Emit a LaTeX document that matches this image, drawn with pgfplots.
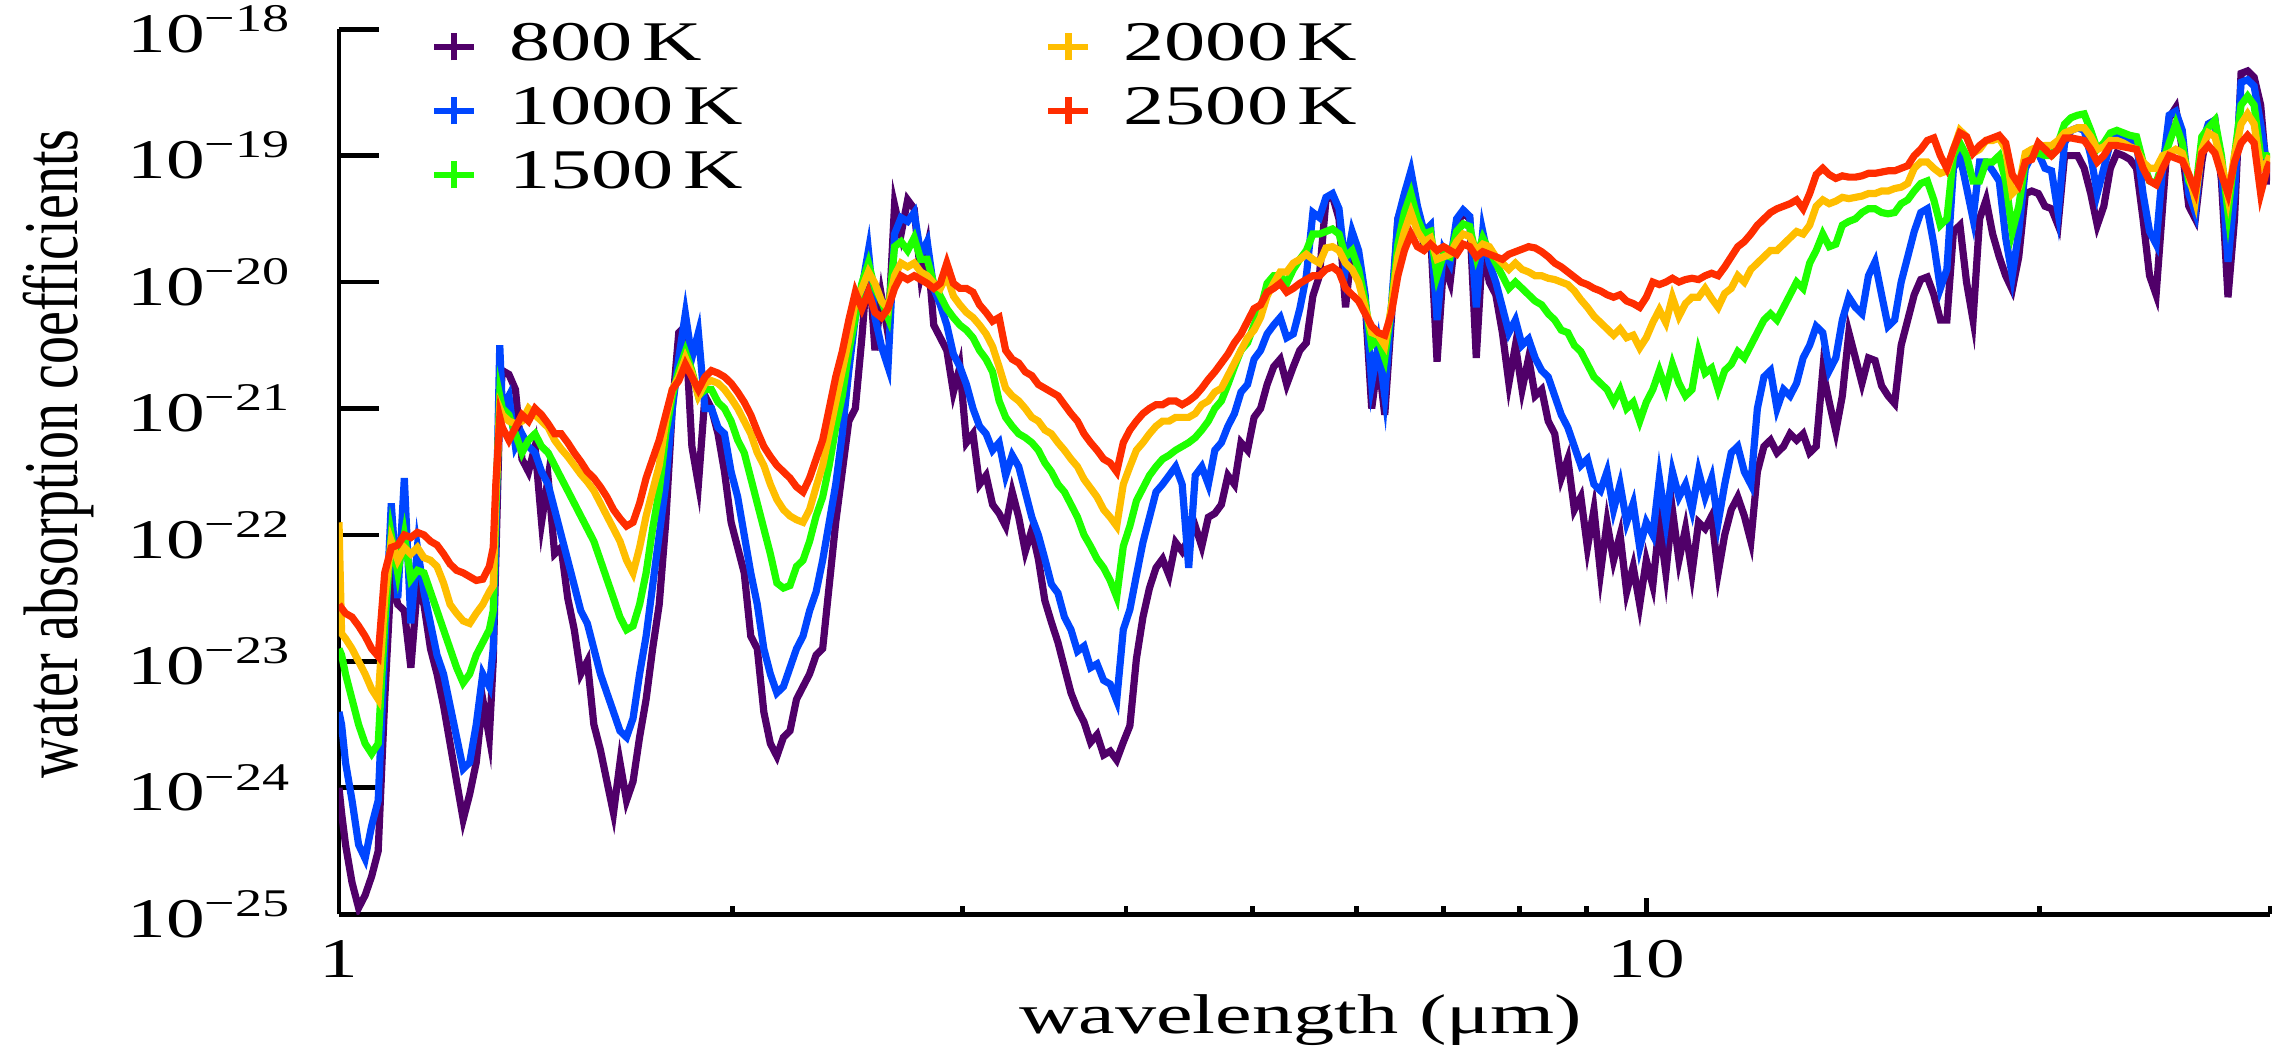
\documentclass[border=0pt]{standalone}
\usepackage{fontspec}
\setmainfont{Liberation Serif}[FakeStretch=1.47]
\newfontfamily\tickfont{Liberation Serif}[FakeStretch=1.38]
\newfontfamily\ylfont{Liberation Serif}
\usepackage{pgfplots}
\usepackage{pgfplotstable}
\pgfplotsset{compat=1.18}

\definecolor{c800}{RGB}{80,0,105}
\definecolor{c1000}{RGB}{0,70,255}
\definecolor{c1500}{RGB}{30,255,0}
\definecolor{c2000}{RGB}{255,190,0}
\definecolor{c2500}{RGB}{255,45,0}

% columns: log10(wavelength / um), then log10 of the absorption coefficient
% for 800 K, 1000 K, 1500 K, 2000 K and 2500 K
\pgfplotstableread{
lx p b g o r
0.000 -24.0 -23.4 -22.9 -21.9 -22.55
0.002 -24.2 -23.5 -22.95 -22.78 -22.58
0.005 -24.45 -23.8 -23.1 -22.82 -22.62
0.010 -24.75 -24.1 -23.3 -22.9 -22.65
0.015 -24.95 -24.45 -23.5 -23.0 -22.72
0.020 -24.85 -24.56 -23.65 -23.1 -22.8
0.025 -24.7 -24.3 -23.73 -23.22 -22.9
0.030 -24.5 -24.1 -23.65 -23.3 -22.96
0.035 -23.3 -22.9 -22.7 -22.5 -22.3
0.040 -22.3 -21.75 -22.0 -22.05 -22.1
0.045 -22.55 -22.5 -22.3 -22.2 -22.08
0.050 -22.6 -21.55 -22.0 -22.1 -22.0
0.055 -23.05 -22.7 -22.35 -22.15 -22.02
0.060 -22.4 -22.1 -22.28 -22.1 -21.98
0.065 -22.55 -22.45 -22.3 -22.18 -22.0
0.070 -22.9 -22.7 -22.45 -22.2 -22.05
0.075 -23.1 -22.95 -22.6 -22.25 -22.08
0.080 -23.35 -23.1 -22.75 -22.38 -22.15
0.085 -23.65 -23.35 -22.9 -22.55 -22.23
0.090 -23.95 -23.6 -23.05 -22.62 -22.28
0.095 -24.25 -23.85 -23.17 -22.68 -22.3
0.100 -24.05 -23.8 -23.1 -22.7 -22.33
0.105 -23.8 -23.5 -22.95 -22.62 -22.36
0.110 -23.3 -23.1 -22.85 -22.55 -22.35
0.115 -23.6 -23.2 -22.75 -22.45 -22.25
0.118 -23.0 -22.9 -22.6 -22.4 -22.1
0.120 -22.2 -22.0 -21.8 -21.7 -21.6
0.123 -21.0 -20.5 -20.9 -21.0 -21.07
0.125 -20.7 -21.0 -21.0 -21.05 -21.15
0.130 -20.73 -20.9 -21.05 -21.1 -21.25
0.135 -20.85 -21.3 -21.2 -21.12 -21.15
0.140 -21.4 -21.2 -21.35 -21.1 -21.05
0.145 -21.5 -21.3 -21.25 -21.0 -21.1
0.150 -21.3 -21.35 -21.2 -21.05 -21.0
0.155 -21.9 -21.5 -21.3 -21.1 -21.05
0.160 -21.55 -21.6 -21.35 -21.15 -21.12
0.165 -22.15 -21.8 -21.45 -21.25 -21.2
0.170 -22.1 -22.0 -21.55 -21.32 -21.2
0.175 -22.5 -22.2 -21.65 -21.38 -21.27
0.180 -22.75 -22.4 -21.75 -21.45 -21.35
0.185 -23.1 -22.6 -21.85 -21.52 -21.42
0.190 -23.0 -22.7 -21.95 -21.58 -21.5
0.195 -23.5 -22.9 -22.05 -21.65 -21.55
0.200 -23.7 -23.1 -22.2 -21.75 -21.62
0.205 -23.95 -23.25 -22.35 -21.85 -21.7
0.210 -24.2 -23.4 -22.5 -21.95 -21.8
0.215 -23.8 -23.55 -22.65 -22.05 -21.87
0.220 -24.1 -23.6 -22.75 -22.2 -21.93
0.225 -23.95 -23.45 -22.72 -22.3 -21.9
0.230 -23.6 -23.1 -22.55 -22.1 -21.75
0.235 -23.3 -22.8 -22.3 -21.85 -21.55
0.240 -22.9 -22.4 -21.95 -21.65 -21.4
0.245 -22.55 -22.0 -21.65 -21.45 -21.25
0.250 -21.9 -21.6 -21.2 -21.1 -21.05
0.255 -21.0 -21.0 -20.9 -20.85 -20.85
0.260 -20.4 -20.6 -20.7 -20.75 -20.78
0.265 -20.35 -20.25 -20.55 -20.6 -20.65
0.270 -21.3 -20.6 -20.7 -20.72 -20.75
0.275 -21.6 -20.4 -20.9 -20.9 -20.85
0.280 -20.9 -21.0 -20.85 -20.8 -20.75
0.285 -21.0 -21.0 -20.85 -20.78 -20.7
0.290 -21.2 -21.15 -20.95 -20.8 -20.72
0.295 -21.5 -21.2 -21.0 -20.85 -20.75
0.300 -21.9 -21.5 -21.1 -20.92 -20.8
0.305 -22.1 -21.7 -21.25 -21.0 -20.87
0.310 -22.3 -22.0 -21.35 -21.1 -20.95
0.315 -22.8 -22.3 -21.55 -21.2 -21.05
0.320 -22.9 -22.55 -21.75 -21.35 -21.18
0.325 -23.4 -22.9 -21.95 -21.45 -21.3
0.330 -23.65 -23.1 -22.15 -21.6 -21.38
0.335 -23.75 -23.25 -22.38 -21.72 -21.45
0.340 -23.6 -23.2 -22.42 -21.8 -21.5
0.345 -23.55 -23.05 -22.4 -21.85 -21.55
0.350 -23.3 -22.9 -22.25 -21.88 -21.62
0.355 -23.2 -22.8 -22.2 -21.9 -21.66
0.360 -23.1 -22.6 -22.05 -21.8 -21.55
0.365 -22.95 -22.45 -21.85 -21.62 -21.4
0.370 -22.9 -22.2 -21.7 -21.45 -21.25
0.375 -22.4 -21.9 -21.45 -21.2 -21.0
0.380 -21.9 -21.6 -21.15 -20.95 -20.75
0.385 -21.5 -21.2 -20.9 -20.7 -20.55
0.390 -21.1 -20.7 -20.55 -20.45 -20.3
0.395 -21.0 -20.28 -20.28 -20.15 -20.08
0.400 -20.44 -20.05 -20.01 -20.05 -20.21
0.405 -19.78 -19.75 -19.85 -19.92 -20.08
0.410 -20.54 -20.28 -20.05 -20.01 -20.24
0.415 -20.11 -20.51 -20.15 -20.15 -20.28
0.420 -20.41 -20.67 -20.28 -20.21 -20.21
0.425 -19.39 -19.62 -19.72 -19.95 -20.05
0.430 -19.62 -19.49 -19.68 -19.85 -19.95
0.435 -19.35 -19.52 -19.75 -19.88 -19.98
0.440 -19.42 -19.45 -19.65 -19.85 -19.95
0.445 -19.95 -19.78 -19.82 -19.92 -19.98
0.450 -19.72 -19.68 -19.82 -19.95 -20.01
0.455 -20.34 -20.05 -20.01 -20.01 -20.05
0.460 -20.44 -20.18 -20.11 -20.05 -20.01
0.465 -20.54 -20.34 -20.21 -19.95 -19.85
0.470 -20.87 -20.57 -20.28 -20.11 -20.01
0.475 -20.67 -20.67 -20.34 -20.18 -20.05
0.480 -21.27 -20.81 -20.38 -20.24 -20.05
0.485 -21.2 -21.0 -20.44 -20.28 -20.08
0.490 -21.6 -21.14 -20.54 -20.34 -20.18
0.495 -21.53 -21.2 -20.61 -20.41 -20.24
0.500 -21.76 -21.33 -20.71 -20.51 -20.31
0.505 -21.83 -21.27 -20.94 -20.67 -20.28
0.510 -21.93 -21.53 -21.07 -20.84 -20.54
0.515 -21.66 -21.37 -21.14 -20.9 -20.61
0.520 -21.86 -21.46 -21.2 -20.94 -20.64
0.525 -22.13 -21.66 -21.23 -21.0 -20.71
0.530 -21.96 -21.86 -21.27 -21.07 -20.74
0.535 -22.19 -22.0 -21.33 -21.1 -20.81
0.540 -22.52 -22.19 -21.43 -21.17 -20.84
0.545 -22.69 -22.39 -21.5 -21.2 -20.87
0.550 -22.85 -22.46 -21.6 -21.27 -20.9
0.555 -23.05 -22.65 -21.66 -21.33 -20.97
0.560 -23.25 -22.75 -21.76 -21.4 -21.04
0.565 -23.38 -22.92 -21.86 -21.46 -21.1
0.570 -23.48 -22.88 -22.0 -21.56 -21.2
0.575 -23.64 -23.05 -22.09 -21.63 -21.27
0.580 -23.58 -23.02 -22.19 -21.7 -21.33
0.585 -23.74 -23.15 -22.26 -21.8 -21.4
0.590 -23.71 -23.18 -22.36 -21.86 -21.43
0.595 -23.78 -23.31 -22.49 -21.93 -21.5
0.600 -23.64 -22.75 -22.09 -21.6 -21.27
0.605 -23.51 -22.59 -21.93 -21.46 -21.17
0.610 -22.98 -22.32 -21.73 -21.33 -21.1
0.615 -22.65 -22.06 -21.63 -21.27 -21.04
0.620 -22.42 -21.86 -21.53 -21.2 -21.0
0.625 -22.26 -21.66 -21.46 -21.14 -20.97
0.630 -22.19 -21.6 -21.4 -21.1 -20.97
0.635 -22.32 -21.53 -21.37 -21.1 -20.94
0.640 -22.06 -21.46 -21.33 -21.07 -20.94
0.645 -22.13 -21.6 -21.3 -21.07 -20.97
0.650 -22.03 -22.26 -21.27 -21.07 -20.94
0.655 -21.93 -21.53 -21.23 -21.04 -20.9
0.660 -22.09 -21.46 -21.17 -20.97 -20.84
0.665 -21.86 -21.6 -21.1 -20.94 -20.77
0.670 -21.83 -21.33 -21.0 -20.87 -20.71
0.675 -21.76 -21.27 -20.94 -20.84 -20.64
0.680 -21.53 -21.14 -20.81 -20.74 -20.57
0.685 -21.6 -21.04 -20.67 -20.64 -20.48
0.690 -21.27 -20.87 -20.54 -20.54 -20.41
0.695 -21.33 -20.81 -20.48 -20.44 -20.31
0.700 -21.07 -20.61 -20.34 -20.38 -20.21
0.705 -21.0 -20.54 -20.21 -20.28 -20.18
0.710 -20.81 -20.41 -20.01 -20.11 -20.08
0.715 -20.67 -20.34 -19.95 -20.01 -20.05
0.720 -20.61 -20.28 -19.95 -19.92 -20.01
0.725 -20.81 -20.44 -20.01 -19.92 -20.08
0.730 -20.67 -20.41 -19.9 -19.85 -20.05
0.735 -20.54 -20.21 -19.82 -19.82 -20.01
0.740 -20.48 -19.95 -19.75 -19.78 -19.98
0.745 -20.11 -19.45 -19.62 -19.82 -19.95
0.750 -19.95 -19.49 -19.62 -19.85 -19.95
0.755 -19.35 -19.33 -19.6 -19.73 -19.9
0.760 -19.32 -19.3 -19.58 -19.72 -19.88
0.765 -19.5 -19.42 -19.62 -19.75 -19.92
0.770 -20.2 -19.9 -19.8 -19.85 -20.05
0.775 -19.7 -19.6 -19.75 -19.9 -20.1
0.780 -19.8 -19.75 -19.9 -20.0 -20.15
0.785 -20.15 -20.1 -20.15 -20.2 -20.25
0.790 -21.0 -20.8 -20.5 -20.4 -20.35
0.795 -20.6 -20.5 -20.45 -20.42 -20.4
0.800 -21.05 -20.9 -20.6 -20.5 -20.42
0.805 -20.3 -20.2 -20.2 -20.2 -20.25
0.810 -19.5 -19.5 -19.7 -19.8 -19.95
0.815 -19.35 -19.3 -19.45 -19.6 -19.75
0.820 -19.25 -19.12 -19.3 -19.45 -19.62
0.825 -19.5 -19.4 -19.5 -19.6 -19.72
0.830 -19.7 -19.6 -19.62 -19.68 -19.75
0.835 -19.6 -19.55 -19.6 -19.65 -19.7
0.840 -20.63 -20.3 -19.95 -19.82 -19.75
0.845 -19.85 -19.75 -19.78 -19.8 -19.72
0.850 -20.0 -19.85 -19.8 -19.78 -19.75
0.855 -19.55 -19.5 -19.6 -19.68 -19.78
0.860 -19.45 -19.43 -19.54 -19.62 -19.7
0.865 -19.5 -19.48 -19.56 -19.64 -19.72
0.870 -20.6 -20.2 -19.8 -19.75 -19.8
0.875 -19.7 -19.6 -19.65 -19.7 -19.76
0.880 -20.0 -19.85 -19.75 -19.72 -19.78
0.885 -20.1 -20.0 -19.85 -19.8 -19.8
0.890 -20.4 -20.2 -19.95 -19.85 -19.82
0.895 -20.8 -20.4 -20.05 -19.9 -19.78
0.900 -20.5 -20.3 -20.0 -19.85 -19.76
0.905 -20.85 -20.5 -20.05 -19.9 -19.74
0.910 -20.6 -20.45 -20.1 -19.92 -19.72
0.915 -20.9 -20.6 -20.15 -19.95 -19.73
0.920 -20.85 -20.7 -20.18 -19.95 -19.76
0.925 -21.1 -20.75 -20.25 -19.97 -19.8
0.930 -21.2 -20.9 -20.3 -19.98 -19.85
0.935 -21.55 -21.05 -20.38 -20.0 -19.88
0.940 -21.4 -21.15 -20.4 -20.02 -19.92
0.945 -21.8 -21.3 -20.5 -20.07 -19.96
0.950 -21.7 -21.45 -20.55 -20.14 -20.0
0.955 -22.1 -21.4 -20.65 -20.2 -20.02
0.960 -21.8 -21.6 -20.75 -20.27 -20.05
0.965 -22.3 -21.65 -20.8 -20.32 -20.07
0.970 -21.9 -21.5 -20.85 -20.37 -20.1
0.975 -22.2 -21.8 -20.95 -20.42 -20.12
0.980 -22.0 -21.6 -20.85 -20.37 -20.1
0.985 -22.45 -21.9 -21.0 -20.44 -20.15
0.990 -22.25 -21.75 -20.95 -20.42 -20.17
0.995 -22.55 -22.1 -21.1 -20.52 -20.2
1.000 -22.2 -21.9 -20.95 -20.44 -20.12
1.005 -22.4 -22.0 -20.85 -20.32 -20.0
1.010 -21.9 -21.55 -20.7 -20.22 -20.02
1.015 -22.3 -21.9 -20.85 -20.32 -20.0
1.020 -21.8 -21.5 -20.65 -20.12 -19.97
1.025 -22.2 -21.7 -20.8 -20.27 -20.0
1.030 -21.95 -21.6 -20.9 -20.17 -19.98
1.035 -22.3 -21.8 -20.85 -20.12 -19.97
1.040 -21.9 -21.5 -20.55 -20.12 -19.98
1.045 -21.95 -21.7 -20.72 -20.05 -19.95
1.050 -21.85 -21.55 -20.68 -20.13 -19.93
1.055 -22.3 -21.9 -20.85 -20.2 -19.95
1.060 -22.0 -21.6 -20.7 -20.09 -19.88
1.065 -21.8 -21.35 -20.65 -20.05 -19.8
1.070 -21.7 -21.3 -20.55 -19.95 -19.72
1.075 -21.85 -21.5 -20.6 -20.0 -19.68
1.080 -22.05 -21.6 -20.5 -19.9 -19.62
1.085 -21.5 -21.0 -20.4 -19.85 -19.55
1.090 -21.3 -20.75 -20.3 -19.8 -19.5
1.095 -21.25 -20.7 -20.25 -19.75 -19.45
1.100 -21.35 -21.0 -20.3 -19.75 -19.42
1.105 -21.3 -20.85 -20.2 -19.7 -19.4
1.110 -21.2 -20.9 -20.1 -19.65 -19.38
1.115 -21.25 -20.8 -20.0 -19.6 -19.35
1.120 -21.2 -20.6 -20.05 -19.62 -19.42
1.125 -21.35 -20.5 -19.85 -19.55 -19.3
1.130 -21.3 -20.35 -19.75 -19.4 -19.15
1.135 -20.7 -20.4 -19.62 -19.35 -19.1
1.140 -20.95 -20.7 -19.72 -19.38 -19.15
1.145 -21.18 -20.6 -19.7 -19.36 -19.18
1.150 -20.9 -20.3 -19.55 -19.33 -19.16
1.155 -20.4 -20.12 -19.52 -19.34 -19.17
1.160 -20.6 -20.2 -19.5 -19.33 -19.17
1.165 -20.8 -20.25 -19.45 -19.32 -19.16
1.170 -20.6 -19.95 -19.42 -19.3 -19.14
1.175 -20.62 -19.84 -19.42 -19.3 -19.14
1.180 -20.82 -20.1 -19.45 -19.28 -19.13
1.185 -20.9 -20.35 -19.46 -19.28 -19.12
1.190 -20.96 -20.3 -19.45 -19.26 -19.12
1.195 -20.5 -20.0 -19.38 -19.25 -19.1
1.200 -20.3 -19.8 -19.35 -19.22 -19.08
1.205 -20.1 -19.6 -19.28 -19.1 -19.0
1.210 -19.98 -19.45 -19.22 -19.05 -18.95
1.215 -19.96 -19.42 -19.2 -19.05 -18.88
1.220 -20.1 -19.7 -19.35 -19.1 -18.86
1.225 -20.3 -20.05 -19.55 -19.14 -19.0
1.230 -20.3 -19.9 -19.5 -19.12 -19.1
1.235 -19.6 -19.1 -19.0 -18.95 -18.95
1.240 -19.55 -19.0 -18.9 -18.8 -18.82
1.245 -20.0 -19.25 -19.0 -18.85 -18.85
1.250 -20.3 -19.5 -19.2 -18.98 -18.98
1.255 -19.5 -19.05 -19.2 -18.95 -18.92
1.260 -19.35 -19.05 -19.05 -18.88 -18.88
1.265 -19.62 -19.12 -19.05 -18.88 -18.86
1.270 -19.8 -19.2 -19.0 -18.86 -18.84
1.275 -19.95 -19.65 -19.2 -18.95 -18.9
1.280 -20.06 -19.95 -19.6 -19.3 -19.15
1.285 -19.8 -19.6 -19.4 -19.25 -19.23
1.290 -19.3 -19.1 -19.05 -18.98 -19.05
1.295 -19.28 -19.0 -19.0 -18.95 -19.03
1.300 -19.3 -18.98 -18.98 -18.93 -18.9
1.305 -19.4 -19.1 -19.0 -18.92 -18.95
1.310 -19.42 -19.12 -19.0 -18.92 -19.0
1.315 -19.55 -19.45 -18.9 -18.88 -18.95
1.320 -19.0 -18.9 -18.75 -18.82 -18.86
1.325 -19.0 -18.8 -18.7 -18.8 -18.86
1.330 -19.0 -18.78 -18.68 -18.78 -18.87
1.335 -19.1 -18.8 -18.67 -18.78 -18.88
1.340 -19.3 -19.0 -18.8 -18.85 -18.95
1.345 -19.55 -19.3 -18.95 -18.95 -19.05
1.350 -19.4 -19.1 -18.9 -18.93 -19.0
1.355 -19.1 -18.9 -18.82 -18.88 -18.92
1.360 -18.98 -18.84 -18.8 -18.88 -18.92
1.365 -19.0 -18.86 -18.82 -18.9 -18.93
1.370 -19.03 -18.88 -18.84 -18.93 -18.94
1.375 -19.1 -18.9 -18.85 -18.95 -18.95
1.380 -19.5 -19.3 -19.05 -19.05 -19.1
1.385 -19.95 -19.6 -19.2 -19.1 -19.2
1.390 -20.1 -19.7 -19.22 -19.1 -19.23
1.395 -19.4 -19.1 -19.05 -19.0 -19.1
1.400 -18.7 -18.68 -18.9 -18.98 -19.0
1.405 -18.62 -18.65 -18.75 -18.95 -19.02
1.410 -18.95 -18.8 -18.9 -18.98 -19.04
1.415 -19.4 -19.3 -19.2 -19.15 -19.15
1.420 -19.5 -19.45 -19.3 -19.35 -19.28
1.425 -19.05 -18.9 -18.85 -18.95 -18.98
1.430 -18.75 -18.75 -18.78 -18.82 -18.92
1.435 -18.72 -18.72 -18.72 -18.85 -18.98
1.440 -19.2 -19.1 -19.0 -19.05 -19.15
1.445 -20.12 -19.84 -19.45 -19.33 -19.3
1.450 -19.5 -19.3 -19.0 -19.0 -19.05
1.455 -18.35 -18.42 -18.6 -18.75 -18.9
1.460 -18.33 -18.4 -18.53 -18.67 -18.84
1.465 -18.38 -18.45 -18.6 -18.75 -18.9
1.470 -18.6 -18.75 -19.0 -19.1 -19.3
1.475 -19.2 -19.1 -19.0 -19.05 -19.1
1.4771 -19.2 -19.12 -19.02 -19.0 -19.05
}\wdata

\begin{document}
\begin{tikzpicture}[font=\fontsize{14}{17}\selectfont]
\begin{axis}[
  scale only axis,
  width=482.75pt, height=221.25pt,
  xmode=log, ymode=log,
  xmin=1, xmax=30, ymin=1e-25, ymax=1e-18,
  axis x line*=bottom, axis y line*=left,
  axis line style={line width=1.2pt, black},
  tick align=inside,
  tick style={line width=1.2pt, black},
  major tick length=4pt, minor tick length=2pt,
  tick label style={font=\tickfont\fontsize{14}{17}\selectfont},
  xtick={1,10}, xticklabels={1,10},
  minor xtick={2,3,4,5,6,7,8,9,20,30},
  xticklabel style={yshift=-3pt},
  ytick=\empty, yminorticks=false,
  extra y ticks={1e-25,1e-24,1e-23,1e-22,1e-21,1e-20,1e-19,1e-18},
  extra y tick labels={10\textsuperscript{−25},10\textsuperscript{−24},10\textsuperscript{−23},10\textsuperscript{−22},10\textsuperscript{−21},10\textsuperscript{−20},10\textsuperscript{−19},10\textsuperscript{−18}},
  extra y tick style={major tick length=10pt, tick style={line width=1.2pt, black},
    yticklabel style={inner sep=2.9pt, xshift=-8.8pt}},
  xlabel={wavelength (μm)},
  xlabel style={at={(axis description cs:0.498,-0.12)}, anchor=center, inner sep=2.9pt},
  ylabel={\ylfont\scalebox{1}[1.38]{water absorption coefficients}},
  ylabel style={at={(axis description cs:-0.145,0.52)}, anchor=center},
  legend image code/.code={\draw[#1, line width=1.6pt] (0pt,0pt) -- (10pt,0pt) (5pt,-3.4pt) -- (5pt,3.4pt);},
  legend style={draw=none, fill=none, inner sep=0pt, outer sep=0pt,
    at={(axis description cs:0,1)}, anchor=north west, xshift=23pt, yshift=2.1pt,
    nodes={inner sep=0pt, text height=10pt, text depth=3pt},
    row sep=3pt, column sep=8pt,
    /tikz/every even column/.append style={column sep=75.6pt}},
  legend cell align=left,
  transpose legend, legend columns=3,
  table/x expr={10^(\thisrow{lx})},
]
\addplot[c800, line width=1.8pt] table[y expr={10^(\thisrow{p})}] {\wdata};
\addlegendentry{800\,K}
\addplot[c1000, line width=1.8pt] table[y expr={10^(\thisrow{b})}] {\wdata};
\addlegendentry{1000\,K}
\addplot[c1500, line width=1.8pt] table[y expr={10^(\thisrow{g})}] {\wdata};
\addlegendentry{1500\,K}
\addplot[c2000, line width=1.8pt] table[y expr={10^(\thisrow{o})}] {\wdata};
\addlegendentry{2000\,K}
\addplot[c2500, line width=1.8pt] table[y expr={10^(\thisrow{r})}] {\wdata};
\addlegendentry{2500\,K}
\end{axis}
% page area: the axis plus the room its labels take around it
\pgfresetboundingbox
\path[use as bounding box] ([xshift=-84.75pt,yshift=-35.1pt]current axis.south west)
  rectangle ([xshift=5.5pt,yshift=7.3pt]current axis.north east);
\end{tikzpicture}
\end{document}
